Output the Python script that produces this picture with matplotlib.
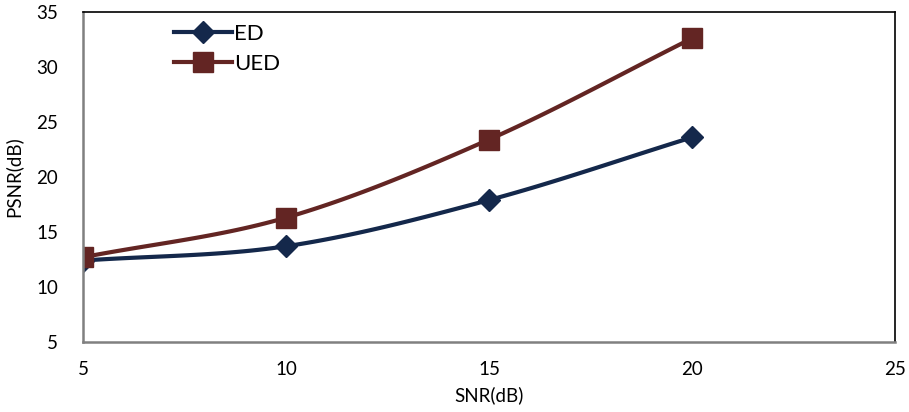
import numpy as np
import matplotlib
matplotlib.use("Agg")
import matplotlib.pyplot as plt

snr = [5, 10, 15, 20]
ed = [12.4, 13.7, 17.9, 23.6]
ued = [12.7, 16.3, 23.4, 32.6]

plt.rcParams['font.family'] = ['Lato', 'DejaVu Sans']


def smooth(x, y, n=30):
    # catmull-rom style smoothing like excel's smoothed lines
    x = np.asarray(x, float)
    y = np.asarray(y, float)
    px = np.concatenate([[2 * x[0] - x[1]], x, [2 * x[-1] - x[-2]]])
    py = np.concatenate([[2 * y[0] - y[1]], y, [2 * y[-1] - y[-2]]])
    xs, ys = [], []
    t = np.linspace(0, 1, n)
    for i in range(1, len(px) - 2):
        p0, p1, p2, p3 = [np.array([px[j], py[j]]) for j in range(i - 1, i + 3)]
        c1 = p1 + (p2 - p0) / 6
        c2 = p2 - (p3 - p1) / 6
        pts = ((1 - t) ** 3)[:, None] * p1 + (3 * (1 - t) ** 2 * t)[:, None] * c1 \
            + (3 * (1 - t) * t ** 2)[:, None] * c2 + (t ** 3)[:, None] * p2
        xs.extend(pts[:, 0])
        ys.extend(pts[:, 1])
    return xs, ys


fig = plt.figure(figsize=(9.09, 4.12), dpi=100)
ax = fig.add_axes([0.0913, 0.170, 0.8933, 0.801])

c_ed = '#14284b'
c_ued = '#632523'

sx, sy = smooth(snr, ed)
ax.plot(sx, sy, color=c_ed, lw=3)
ax.plot(snr, ed, 'D', color=c_ed, ms=11)
sx, sy = smooth(snr, ued)
ax.plot(sx, sy, color=c_ued, lw=3)
ax.plot(snr, ued, 's', color=c_ued, ms=14)

# legend handles
ax.plot([], [], color=c_ed, lw=3, marker='D', ms=11, label='ED')
ax.plot([], [], color=c_ued, lw=3, marker='s', ms=14, label='UED')
ax.legend(loc='upper left', bbox_to_anchor=(0.088, 1.025), frameon=False,
          fontsize=16, handlelength=2.6, handletextpad=0.1, labelspacing=0.45)

ax.set_xlim(5, 25)
ax.set_ylim(5, 35)
ax.set_xticks([5, 10, 15, 20, 25])
ax.set_yticks([5, 10, 15, 20, 25, 30, 35])
ax.tick_params(length=0, labelsize=13.5, pad=14)
ax.tick_params(axis='y', pad=18)
ax.set_xlabel('SNR(dB)', fontsize=13.5, labelpad=6)
ax.set_ylabel('PSNR(dB)', fontsize=13.5, labelpad=10)

for s in ['left', 'bottom']:
    ax.spines[s].set_color('#808080')
    ax.spines[s].set_linewidth(1.8)
for s in ['top', 'right']:
    ax.spines[s].set_color('black')
    ax.spines[s].set_linewidth(1.2)

fig.savefig('out.png', dpi=100)
